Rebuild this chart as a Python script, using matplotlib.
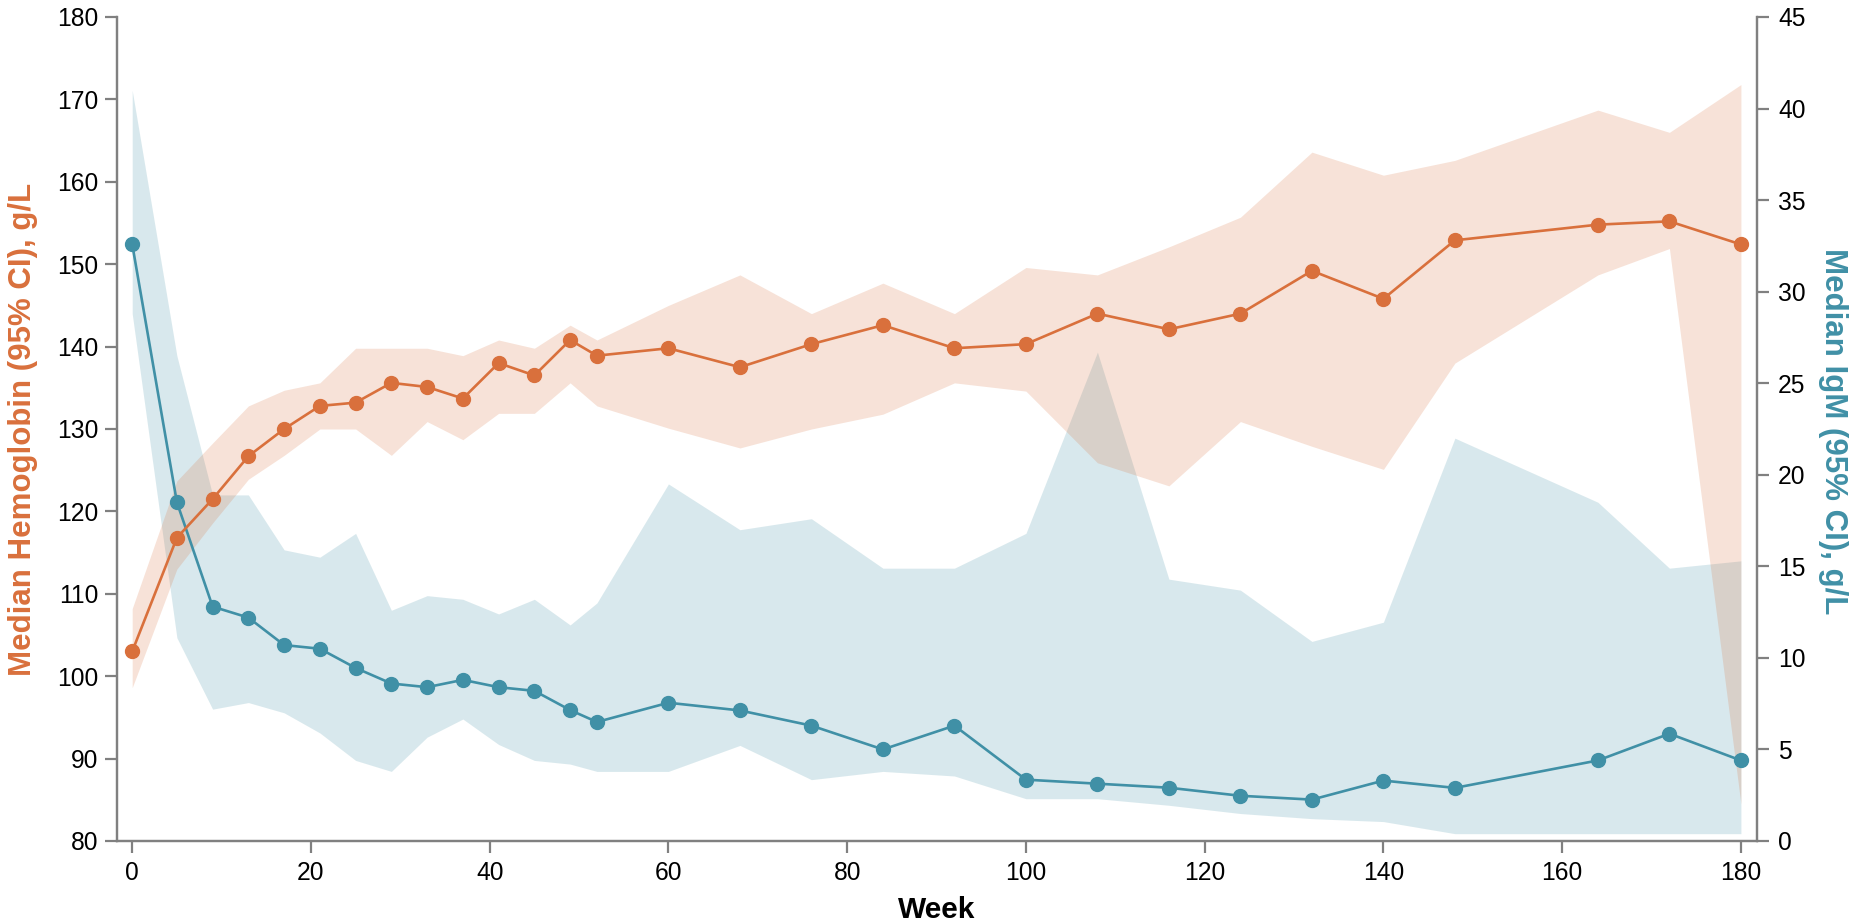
import matplotlib.pyplot as plt
import numpy as np

plt.rcParams['font.family'] = ['Liberation Sans', 'DejaVu Sans']

weeks = [0, 5, 9, 13, 17, 21, 25, 29, 33, 37, 41, 45, 49, 52, 60, 68, 76, 84, 92,
         100, 108, 116, 124, 132, 140, 148, 164, 172, 180]

# hemoglobin, g/L (left axis)
hgb = [103.0, 116.8, 121.5, 126.7, 130.0, 132.8, 133.2, 135.6, 135.1, 133.7, 138.0, 136.5,
       140.8, 138.9, 139.8, 137.5, 140.3, 142.6, 139.8, 140.3, 144.0, 142.1, 144.0, 149.2,
       145.8, 152.9, 154.8, 155.2, 152.4]
hgb_lo = [98.6, 113.0, 118.6, 123.9, 126.8, 130.0, 130.0, 126.8, 130.9, 128.7, 131.9, 131.9,
          135.6, 132.8, 130.1, 127.7, 130.0, 131.8, 135.6, 134.6, 125.9, 123.1, 130.9, 127.9,
          125.1, 138.0, 148.7, 151.9, 84.5]
hgb_hi = [108.2, 123.7, 128.3, 132.8, 134.7, 135.6, 139.8, 139.8, 139.8, 138.9, 140.8, 139.8,
          142.6, 140.8, 145.0, 148.7, 144.0, 147.7, 144.0, 149.6, 148.7, 152.1, 155.7, 163.6,
          160.8, 162.6, 168.7, 166.0, 171.8]

# IgM, g/L (right axis)
igm = [32.6, 18.5, 12.8, 12.2, 10.7, 10.5, 9.45, 8.6, 8.4, 8.8, 8.4, 8.2, 7.15, 6.5, 7.55,
       7.13, 6.3, 5.0, 6.3, 3.35, 3.13, 2.91, 2.47, 2.26, 3.3, 2.9, 4.4, 5.86, 4.4]
igm_lo = [28.8, 11.1, 7.2, 7.56, 7.0, 5.9, 4.4, 3.8, 5.67, 6.66, 5.27, 4.4, 4.2, 3.8, 3.8,
          5.22, 3.35, 3.8, 3.55, 2.31, 2.31, 1.95, 1.5, 1.22, 1.06, 0.4, 0.4, 0.4, 0.4]
igm_hi = [41.0, 26.5, 18.9, 18.9, 15.9, 15.5, 16.8, 12.6, 13.4, 13.2, 12.4, 13.2, 11.8, 13.0,
          19.5, 17.0, 17.6, 14.9, 14.9, 16.8, 26.7, 14.3, 13.7, 10.9, 11.95, 22.0, 18.5, 14.9, 15.3]

orange = '#D9703C'
teal = '#4090A6'
axcol = '#808080'

W, H = 1859, 923
fig = plt.figure(figsize=(W / 100, H / 100), dpi=100)
ax = fig.add_axes([117 / W, 1 - 841 / H, 1640 / W, 824 / H])
ax2 = ax.twinx()

ax.set_xlim(-1.7, 181.8)
ax.set_ylim(80, 180)
ax2.set_ylim(0, 45)

# bands first (orange band over blue band), then the lines on top
ax2.fill_between(weeks, igm_lo, igm_hi, color=teal, alpha=0.2, linewidth=0, zorder=1)
ax2.fill_between(weeks, hgb_lo, hgb_hi, color=orange, alpha=0.2, linewidth=0, zorder=1.5,
                 transform=ax.transData)
ax2.plot(weeks, igm, color=teal, lw=1.9, marker='o', ms=10, zorder=3)
ax.plot(weeks, hgb, color=orange, lw=1.9, marker='o', ms=10, zorder=3)

ax.set_zorder(ax2.get_zorder() + 1)
ax.patch.set_visible(False)

ax.set_xticks(np.arange(0, 181, 20))
ax.set_yticks(np.arange(80, 181, 10))
ax2.set_yticks(np.arange(0, 46, 5))

for a in (ax, ax2):
    a.spines['top'].set_visible(False)
    for s in ('left', 'right', 'bottom'):
        a.spines[s].set_color(axcol)
        a.spines[s].set_linewidth(1.6)
    a.tick_params(colors=axcol, labelcolor='black', width=1.6, length=8.6, labelsize=17.7)
ax.tick_params(axis='y', pad=5)
ax.tick_params(axis='x', pad=6)
ax2.tick_params(axis='y', pad=6.5)

# axis titles
fig.text(937 / W, 5 / H, 'Week', fontsize=21.5, fontweight='bold', ha='center', va='baseline')
fig.text(23 / W, 1 - 429 / H, 'Median Hemoglobin (95% CI), g/L', fontsize=22.5,
         fontweight='bold', color=orange, rotation=90, ha='center', va='center')
fig.text(1833 / W, 1 - 431 / H, 'Median IgM (95% CI), g/L', fontsize=22.5,
         fontweight='bold', color=teal, rotation=270, ha='center', va='center')

plt.savefig('out.png', dpi=100)
